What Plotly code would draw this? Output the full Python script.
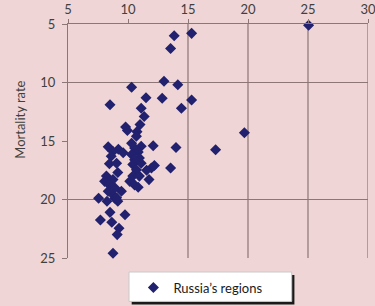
import plotly.graph_objects as go

# Data
x_vals = [25.05, 15.3, 13.85, 13.55, 13.0, 14.15, 10.3, 11.5, 12.85, 15.3,
          8.5, 11.1, 14.45, 11.35, 11.0, 9.8, 9.95, 10.75, 19.7, 10.7,
          10.3, 12.1, 8.35, 9.2, 14.0, 17.3, 11.1, 10.55, 8.75, 9.6,
          10.85, 10.3, 10.95, 8.6, 10.55, 11.1, 8.45, 9.05, 10.4, 12.2,
          11.95, 13.55, 10.7, 9.15, 11.55, 8.2, 10.4, 10.95, 11.75, 8.75,
          8.05, 10.15, 10.55, 8.45, 10.85, 8.9, 9.45, 8.35, 8.75, 7.55,
          8.9, 8.25, 9.15, 9.05, 9.75, 8.5, 7.7, 8.65, 9.25, 9.1, 8.75]
y_vals = [5.1, 5.8, 6.0, 7.1, 9.9, 10.2, 10.4, 11.3, 11.35, 11.5,
          11.9, 12.2, 12.2, 12.9, 13.6, 13.8, 14.1, 14.2, 14.3, 14.6,
          15.2, 15.4, 15.5, 15.7, 15.55, 15.75, 15.45, 15.6, 15.9, 16.0,
          15.95, 16.15, 16.45, 16.3, 16.6, 16.9, 16.95, 16.9, 17.0, 17.1,
          17.3, 17.3, 17.45, 17.7, 17.5, 18.0, 18.0, 18.0, 18.3, 18.3,
          18.45, 18.45, 18.75, 18.75, 18.95, 19.0, 19.3, 19.3, 19.6, 19.9,
          19.9, 20.15, 20.15, 19.85, 21.3, 21.1, 21.75, 21.95, 22.45, 23.0, 24.6]
series_name = "Russia\u2019s regions"
x_ticks = [5, 10, 15, 20, 25, 30]
y_ticks = [5, 10, 15, 20, 25]
x_grid = [15, 20, 25, 30]
y_grid = [10, 20]

BG = "#efd5d5"
GRID = "#8c7676"
NAVY = "#22216f"
FONT = "Lato, Open Sans, sans-serif"

fig = go.Figure()
fig.add_trace(go.Scatter(
    x=x_vals, y=y_vals, mode="markers", name=series_name,
    marker=dict(symbol="diamond", size=8.5, color=NAVY),
    cliponaxis=False, showlegend=True,
))

shapes = []
for gx in x_grid:
    shapes.append(dict(type="line", xref="x", yref="y", x0=gx, x1=gx, y0=5, y1=25,
                       line=dict(color=GRID, width=1.2), layer="below"))
for gy in y_grid:
    shapes.append(dict(type="line", xref="x", yref="y", x0=5, x1=30, y0=gy, y1=gy,
                       line=dict(color=GRID, width=1.2), layer="below"))
# legend box with shadow
shapes.append(dict(type="rect", xref="paper", yref="paper", x0=0.2123, x1=0.7547,
                   y0=-0.1983, y1=-0.0726, fillcolor="#1a1a1a", line=dict(width=0),
                   layer="below"))
shapes.append(dict(type="rect", xref="paper", yref="paper", x0=0.2033, x1=0.7457,
                   y0=-0.1855, y1=-0.0598, fillcolor="#ffffff",
                   line=dict(color="#c8c8c8", width=1), layer="below"))

fig.update_layout(
    width=375, height=306,
    margin=dict(l=68, r=7, t=24, b=48, autoexpand=False),
    paper_bgcolor=BG, plot_bgcolor=BG,
    font=dict(family=FONT, size=13, color="#404040"),
    shapes=shapes,
    showlegend=True,
    legend=dict(x=0.218, y=-0.126, xanchor="left", yanchor="middle",
                bgcolor="rgba(0,0,0,0)", borderwidth=0,
                font=dict(family=FONT, size=13, color="#1a1a1a")),
    annotations=[dict(text="Mortality rate", xref="paper", yref="paper",
                      x=-0.194, y=0.59, textangle=-90, showarrow=False,
                      font=dict(family=FONT, size=13, color="#404040"))],
)
fig.update_xaxes(range=[5, 30], side="top", tickvals=x_ticks, showgrid=False,
                 zeroline=False, showline=True, linecolor=GRID, linewidth=1.2,
                 ticks="outside", ticklen=4, tickcolor=GRID, tickwidth=1.2,
                 ticklabeloverflow="allow")
fig.update_yaxes(range=[25, 5], tickvals=y_ticks, showgrid=False, zeroline=False,
                 showline=True, linecolor=GRID, linewidth=1.2,
                 ticks="outside", ticklen=5, tickcolor=GRID, tickwidth=1.2,
                 ticklabelstandoff=4)

fig.write_html("out.html",
               config={"displayModeBar": False},
               post_script="document.body.style.margin='0';"
                           "document.body.style.overflow='hidden';")
